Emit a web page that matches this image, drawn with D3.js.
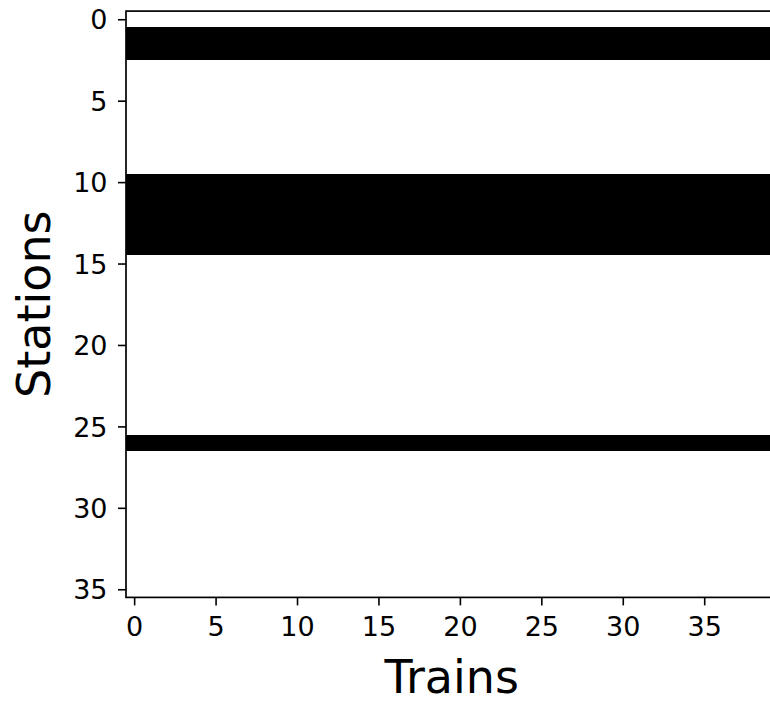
<!DOCTYPE html>
<html>
<head>
<meta charset="utf-8">
<script src="https://cdn.jsdelivr.net/npm/d3@7"></script>
<style>
  html, body { margin: 0; padding: 0; background: #fff; overflow: hidden; }
  svg { display: block; }
</style>
</head>
<body>
<svg id="chart" width="770" height="702"></svg>
<script>
// ---- data ----
const trains = [0,1,2,3,4,5,6,7,8,9,10,11,12,13,14,15,16,17,18,19,
                20,21,22,23,24,25,26,27,28,29,30,31,32,33,34,35,36,37,38,39];
const stations = [0,1,2,3,4,5,6,7,8,9,10,11,12,13,14,15,16,17,
                  18,19,20,21,22,23,24,25,26,27,28,29,30,31,32,33,34,35];
// stations whose row is filled (value 1) for every train
const occupiedStations = [1,2,10,11,12,13,14,26];
const xTicks = [0,5,10,15,20,25,30,35];
const yTicks = [0,5,10,15,20,25,30,35];
const xLabel = "Trains";
const yLabel = "Stations";

(function () {
  const svg = d3.select("#chart");
  const mLeft = 126, mRight = 777.5, mTop = 11.1, mBottom = 597.4;

  const x = d3.scaleLinear().domain([-0.5, trains.length - 0.5]).range([mLeft, mRight]);
  const y = d3.scaleLinear().domain([-0.5, stations.length - 0.5]).range([mTop, mBottom]);

  const cells = [];
  stations.forEach(s => trains.forEach(t => {
    cells.push({s, t, v: occupiedStations.includes(s) ? 1 : 0});
  }));

  svg.append("g").selectAll("rect")
    .data(cells)
    .join("rect")
    .attr("x", d => x(d.t - 0.5))
    .attr("y", d => y(d.s - 0.5))
    .attr("width", d => x(d.t + 0.5) - x(d.t - 0.5) + 0.5)
    .attr("height", d => y(d.s + 0.5) - y(d.s - 0.5) + 0.3)
    .attr("fill", d => d.v ? "#000" : "#fff")
    .attr("shape-rendering", "crispEdges");

  // spines
  svg.append("rect")
    .attr("x", mLeft).attr("y", mTop)
    .attr("width", mRight - mLeft).attr("height", mBottom - mTop)
    .attr("fill", "none").attr("stroke", "#000").attr("stroke-width", 1.7);

  const font = "'DejaVu Sans', sans-serif";

  // x axis
  const gx = svg.append("g").attr("transform", `translate(0,${mBottom})`)
    .call(d3.axisBottom(x).tickValues(xTicks).tickSize(8).tickPadding(0).tickFormat(d3.format("d")));
  gx.select(".domain").remove();
  gx.selectAll(".tick line").attr("stroke", "#000").attr("stroke-width", 1.6);
  gx.selectAll(".tick text")
    .attr("y", 38.3).attr("dy", null)
    .attr("font-family", font).attr("font-size", 27).attr("fill", "#000");

  // y axis
  const gy = svg.append("g").attr("transform", `translate(${mLeft},0)`)
    .call(d3.axisLeft(y).tickValues(yTicks).tickSize(8).tickPadding(0).tickFormat(d3.format("d")));
  gy.select(".domain").remove();
  gy.selectAll(".tick line").attr("stroke", "#000").attr("stroke-width", 1.6);
  gy.selectAll(".tick text")
    .attr("x", -18.5).attr("dy", "0.36em")
    .attr("font-family", font).attr("font-size", 27).attr("fill", "#000");

  // axis labels
  svg.append("text")
    .attr("x", (mLeft + mRight) / 2).attr("y", 693)
    .attr("text-anchor", "middle")
    .attr("font-family", font).attr("font-size", 46).attr("fill", "#000")
    .text(xLabel);

  svg.append("text")
    .attr("transform", `translate(50,${(mTop + mBottom) / 2}) rotate(-90)`)
    .attr("text-anchor", "middle")
    .attr("font-family", font).attr("font-size", 46).attr("fill", "#000")
    .text(yLabel);
})();
</script>
</body>
</html>
